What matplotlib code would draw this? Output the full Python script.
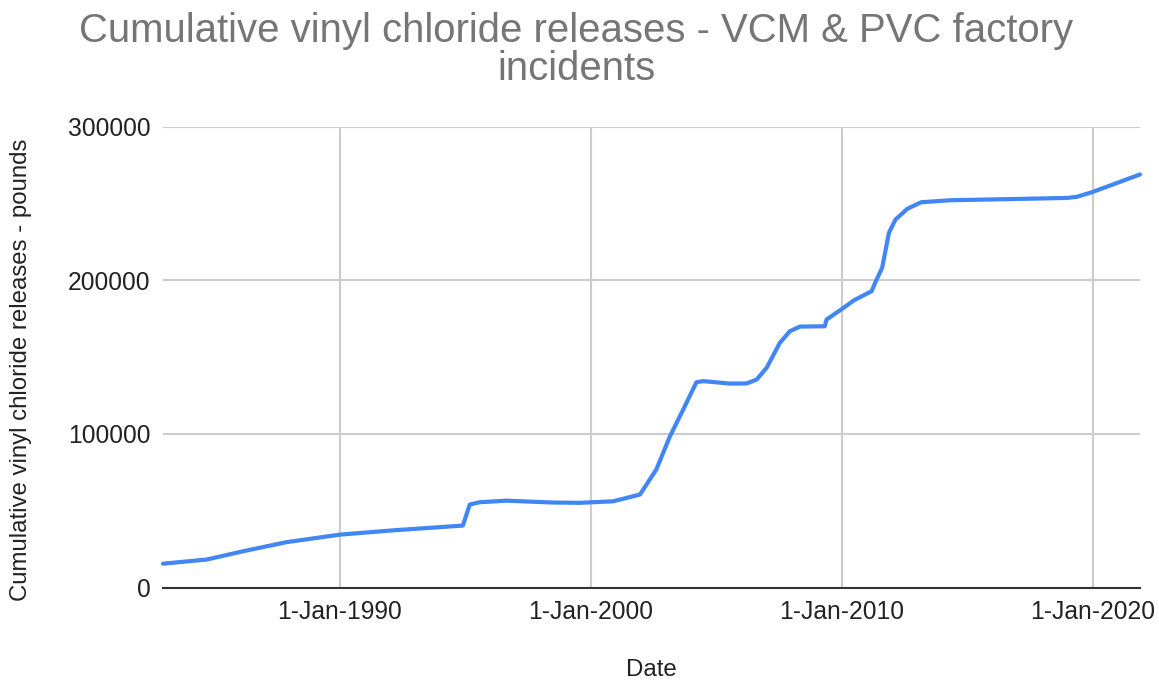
import matplotlib
matplotlib.use("Agg")
import matplotlib.pyplot as plt
from datetime import datetime

plt.rcParams['font.family'] = ['Liberation Sans', 'DejaVu Sans']

dates = ["1982-12-15", "1984-09-10", "1986-02-25", "1987-11-15", "1990-01-01",
         "1992-02-15", "1994-11-25", "1995-03-05", "1995-07-30", "1996-08-20",
         "1998-07-01", "1999-07-20", "2000-11-20", "2001-12-15", "2002-08-10",
         "2003-02-25", "2003-09-05", "2004-03-15", "2004-06-25", "2005-07-15",
         "2006-03-15", "2006-08-08", "2007-01-01", "2007-07-12", "2007-12-05",
         "2008-05-01", "2009-04-25", "2009-05-22", "2009-12-20", "2010-06-28",
         "2011-03-08", "2011-05-08", "2011-08-08", "2011-11-15", "2012-02-18",
         "2012-08-08", "2013-02-25", "2014-04-20", "2018-12-15", "2019-05-08",
         "2019-12-15", "2021-11-15"]
values = [15500, 18200, 23600, 29500, 34400,
          37200, 40300, 54000, 55500, 56500,
          55300, 55100, 56100, 60500, 76800,
          98500, 115800, 133600, 134300, 132700,
          132800, 135300, 143000, 159200, 166800,
          169800, 170000, 174400, 180900, 187000,
          192800, 199300, 208000, 230800, 239400,
          246400, 250700, 252000, 253500, 254200,
          257200, 268800]

y_ticks = [0, 100000, 200000, 300000]
x_tick_dates = ["1990-01-01", "2000-01-01", "2010-01-01", "2020-01-01"]
x_tick_labels = ["1-Jan-1990", "1-Jan-2000", "1-Jan-2010", "1-Jan-2020"]

title_lines = ["Cumulative vinyl chloride releases - VCM & PVC factory", "incidents"]
x_label = "Date"
y_label = "Cumulative vinyl chloride releases - pounds"

dx = [datetime.strptime(d, "%Y-%m-%d") for d in dates]
xt = [datetime.strptime(d, "%Y-%m-%d") for d in x_tick_dates]

W, H = 1159, 684
fig = plt.figure(figsize=(W / 100, H / 100), dpi=100)
ax = fig.add_axes([163 / W, 1 - 587.5 / H, (1140 - 163) / W, (587.5 - 126.5) / H])

ax.plot(dx, values, color="#4285F4", lw=3, solid_joinstyle="round",
        solid_capstyle="round", zorder=3, clip_on=False)

ax.set_xlim(dx[0], dx[-1])
ax.set_ylim(0, 300000)
ax.set_yticks(y_ticks)
ax.set_yticklabels([str(v) for v in y_ticks])
ax.set_xticks(xt)
ax.set_xticklabels(x_tick_labels)

ax.grid(True, color="#cccccc", lw=1.5, zorder=0)
ax.set_axisbelow(True)
for s in ["left", "right", "top"]:
    ax.spines[s].set_visible(False)
ax.spines["bottom"].set_color("#333333")
ax.spines["bottom"].set_linewidth(1.5)
ax.spines["bottom"].set_zorder(4)
ax.tick_params(length=0, labelsize=17.7, colors="#222222")
ax.tick_params(axis="x", pad=9)
ax.tick_params(axis="y", pad=9)

fig.text(651 / W, 1 - 670 / H, x_label, ha="center", va="center",
         fontsize=17.3, color="#222222")
fig.text(21 / W, 1 - 370 / H, y_label, ha="center", va="center", rotation=90,
         fontsize=17.3, color="#222222")

fig.text(576 / W, 1 - 42 / H, title_lines[0], ha="center", va="baseline",
         fontsize=28.9, color="#757575")
fig.text(576 / W, 1 - 80 / H, title_lines[1], ha="center", va="baseline",
         fontsize=28.9, color="#757575")

fig.savefig("out.png", dpi=100)
